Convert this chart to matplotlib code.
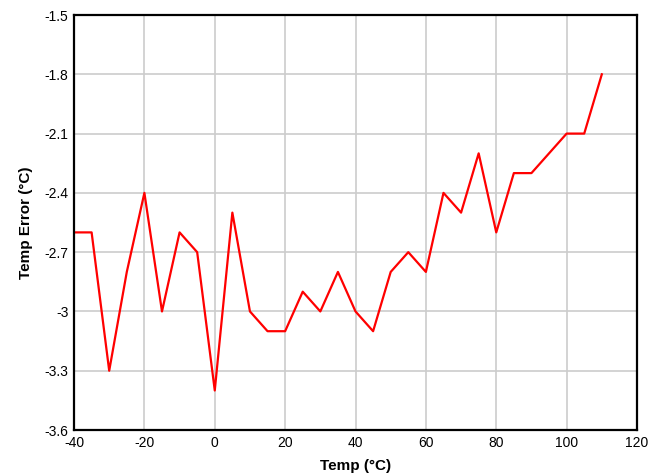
import matplotlib
matplotlib.use("Agg")
import matplotlib.pyplot as plt

# Datos
temp = [-40, -35, -30, -25, -20, -15, -10, -5, 0, 5, 10, 15, 20, 25, 30, 35,
        40, 45, 50, 55, 60, 65, 70, 75, 80, 85, 90, 100, 105, 110]
error = [-2.6, -2.6, -3.3, -2.8, -2.4, -3.0, -2.6, -2.7, -3.4, -2.5, -3.0, -3.1,
         -3.1, -2.9, -3.0, -2.8, -3.0, -3.1, -2.8, -2.7, -2.8, -2.4, -2.5, -2.2,
         -2.6, -2.3, -2.3, -2.1, -2.1, -1.8]

x_ticks = [-40, -20, 0, 20, 40, 60, 80, 100, 120]
y_ticks = [-3.6, -3.3, -3.0, -2.7, -2.4, -2.1, -1.8, -1.5]
y_labels = ["-3.6", "-3.3", "-3", "-2.7", "-2.4", "-2.1", "-1.8", "-1.5"]

plt.rcParams['font.family'] = ['Liberation Sans', 'DejaVu Sans']
plt.rcParams['axes.unicode_minus'] = False

fig = plt.figure(figsize=(6.51, 4.75), dpi=100)
ax = fig.add_axes([0.1137, 0.0947, 0.8648, 0.8737])

ax.plot(temp, error, color="#ff0000", linewidth=1.6)

ax.set_xlim(-40, 120)
ax.set_ylim(-3.6, -1.5)
ax.set_xticks(x_ticks)
ax.set_yticks(y_ticks)
ax.set_yticklabels(y_labels)
ax.grid(True, color="#cccccc", linewidth=1.2)
ax.set_axisbelow(True)
ax.tick_params(length=0, labelsize=10, pad=4)

for s in ax.spines.values():
    s.set_linewidth(1.6)
    s.set_color("black")

ax.set_xlabel("Temp (°C)", fontsize=11, fontweight="bold", labelpad=7)
ax.set_ylabel("Temp Error (°C)", fontsize=11, fontweight="bold", labelpad=8)

plt.savefig("out.png", dpi=100)
